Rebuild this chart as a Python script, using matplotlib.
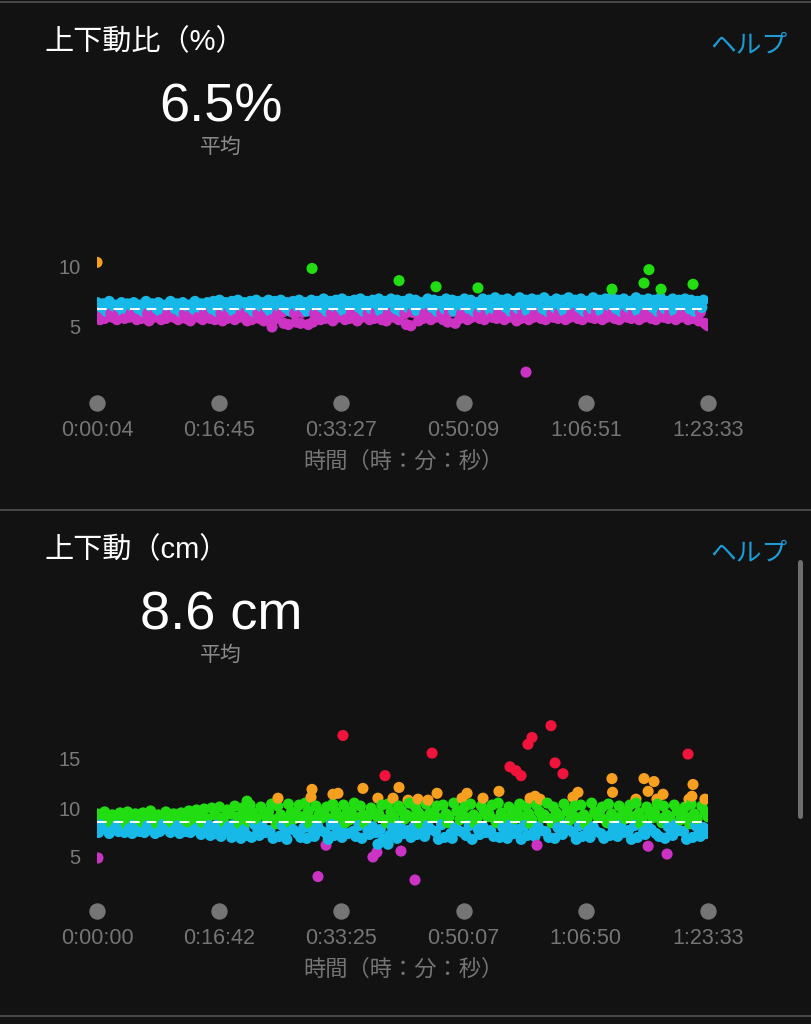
import numpy as np
import matplotlib.pyplot as plt
from matplotlib.lines import Line2D
from matplotlib.transforms import blended_transform_factory

plt.rcParams['font.family'] = ['Liberation Sans', 'Noto Sans CJK JP', 'DejaVu Sans']

W, H = 811, 1024
BG = '#121212'

# zone colours, low -> high
ZONE_COLORS = ['#cc33c4', '#17b9e8', '#22dd11', '#f7a020', '#f0143c']

# ---- 上下動比（%） ----
ratio_avg = 6.5
ratio_start, ratio_end = 4, 5013
ratio_vals = [
    7.0, 6.2, 5.6, 6.6, 6.9, 5.7, 6.3, 6.5, 7.1, 6.1, 5.8, 6.7, 6.8, 5.6, 6.2, 6.6, 7.0, 6.3, 5.7, 6.5,
    6.9, 5.8, 6.1, 6.7, 7.0, 6.2, 5.6, 6.5, 6.8, 5.7, 6.3, 6.6, 7.1, 6.1, 5.5, 6.7, 6.9, 5.8, 6.2, 6.5,
    7.0, 6.3, 5.6, 6.6, 6.8, 5.7, 6.1, 6.7, 7.1, 6.2, 5.8, 6.5, 6.9, 5.6, 6.3, 6.6, 7.0, 6.1, 5.7, 6.7,
    6.8, 5.5, 6.2, 6.5, 7.1, 6.3, 5.8, 6.6, 6.9, 5.6, 6.1, 6.7, 7.0, 6.2, 5.7, 6.5, 7.1, 5.6, 6.3, 6.6,
    7.2, 6.1, 5.5, 6.7, 7.0, 5.7, 6.2, 6.6, 7.1, 6.3, 5.6, 6.5, 7.2, 5.8, 6.1, 6.7, 7.0, 6.2, 5.5, 6.6,
    7.1, 5.6, 6.3, 6.5, 7.2, 6.1, 5.7, 6.7, 7.0, 5.5, 6.2, 6.6, 7.2, 6.3, 5.6, 6.5, 7.1, 5.7, 6.1, 6.7,
    7.2, 6.2, 5.3, 6.6, 7.0, 5.2, 6.3, 6.5, 7.1, 6.1, 5.4, 6.7, 7.2, 5.3, 6.2, 6.6, 7.0, 6.3, 5.2, 6.5,
    7.2, 5.4, 6.1, 6.7, 7.1, 6.2, 5.6, 6.6, 7.3, 5.7, 6.3, 6.5, 7.1, 6.1, 5.5, 6.7, 7.2, 5.8, 6.2, 6.6,
    7.3, 6.3, 5.6, 6.5, 7.1, 5.7, 6.1, 6.8, 7.2, 6.2, 5.5, 6.6, 7.3, 5.8, 6.3, 6.7, 7.1, 6.1, 5.6, 6.5,
    7.2, 5.7, 6.2, 6.8, 7.3, 6.3, 5.6, 6.6, 7.1, 5.5, 6.1, 6.7, 7.3, 6.2, 5.8, 6.5, 7.2, 5.6, 6.3, 6.8,
    7.1, 6.1, 5.2, 6.6, 7.3, 5.1, 6.2, 6.7, 7.2, 6.3, 5.5, 6.5, 7.0, 5.7, 6.1, 6.8, 7.3, 6.2, 5.6, 6.6,
    7.2, 5.8, 6.3, 6.7, 7.1, 6.1, 5.6, 6.5, 7.3, 5.4, 6.2, 6.8, 7.2, 6.3, 5.3, 6.6, 7.1, 5.7, 6.1, 6.7,
    7.3, 6.2, 5.6, 6.5, 7.2, 5.8, 6.3, 6.8, 7.0, 6.1, 5.7, 6.6, 7.3, 5.6, 6.2, 6.7, 7.2, 6.3, 5.8, 6.5,
    7.4, 5.7, 6.1, 6.8, 7.2, 6.2, 5.6, 6.6, 7.3, 5.8, 6.3, 6.7, 7.1, 6.1, 5.5, 6.5, 7.4, 5.7, 6.2, 6.8,
    7.2, 6.3, 5.6, 6.6, 7.3, 5.8, 6.1, 6.7, 7.2, 6.2, 5.7, 6.5, 7.4, 5.6, 6.3, 6.8, 7.1, 6.1, 5.8, 6.6,
    7.3, 5.7, 6.2, 6.7, 7.2, 6.3, 5.6, 6.5, 7.4, 5.8, 6.1, 6.8, 7.2, 6.2, 5.7, 6.6, 7.3, 5.6, 6.3, 6.7,
    7.1, 6.1, 5.8, 6.5, 7.4, 5.7, 6.2, 6.8, 7.2, 6.3, 5.6, 6.6, 7.3, 5.8, 6.1, 6.7, 7.4, 6.2, 5.7, 6.5,
    7.2, 5.6, 6.3, 6.8, 7.3, 6.1, 5.8, 6.6, 7.1, 5.7, 6.2, 6.7, 7.4, 6.3, 5.6, 6.5, 7.2, 5.8, 6.1, 6.8,
    7.3, 6.2, 5.7, 6.6, 7.2, 5.6, 6.3, 6.7, 7.4, 6.1, 5.8, 6.5, 7.1, 5.7, 6.2, 6.8, 7.3, 6.3, 5.6, 6.6,
    7.2, 5.8, 6.1, 6.7, 7.3, 6.2, 5.6, 6.5, 7.2, 5.7, 6.3, 6.8, 7.1, 5.5, 6.2, 6.6, 7.2, 5.3, 5.2, 5.1,
]
ratio_out_t = [4, 1439, 1767, 2480, 2783, 3127, 3521, 4226, 4488, 4529, 4628, 4890]
ratio_out_v = [10.3, 5.0, 9.8, 8.8, 8.3, 8.2, 1.3, 8.1, 8.6, 9.7, 8.1, 8.5]
ratio_bounds = [6.25, 7.5, 10.0, 12.0]
ratio_yticks = [5, 10]
ratio_tick_s = [4, 1005, 2007, 3009, 4011, 5013]
ratio_tick_labels = ['0:00:04', '0:16:45', '0:33:27', '0:50:09', '1:06:51', '1:23:33']

# ---- 上下動（cm） ----
osc_avg = 8.6
osc_start, osc_end = 0, 5013
osc_vals = [
    9.4, 7.5, 8.9, 8.3, 7.9, 9.6, 8.0, 9.0, 7.4, 8.5, 9.3, 7.8, 8.8, 8.2, 7.6, 9.5, 8.1, 9.1, 7.5, 8.4,
    9.6, 7.9, 8.9, 7.4, 8.3, 9.4, 8.0, 9.0, 7.6, 8.6, 9.5, 7.5, 8.8, 8.2, 7.8, 9.7, 8.1, 9.1, 7.4, 8.4,
    9.3, 7.6, 9.0, 8.3, 7.9, 9.6, 8.0, 8.8, 7.5, 8.5, 9.4, 7.8, 9.1, 8.2, 7.4, 9.5, 8.1, 8.9, 7.6, 8.6,
    9.7, 7.5, 9.0, 8.4, 7.8, 9.8, 8.0, 9.2, 7.3, 8.5, 9.9, 7.6, 8.9, 8.2, 7.2, 10.0, 7.9, 9.3, 7.4, 8.3,
    10.1, 7.1, 9.0, 8.5, 7.7, 9.8, 8.1, 9.4, 7.0, 8.3, 10.2, 7.5, 9.1, 8.4, 6.9, 10.0, 7.8, 9.3, 7.2, 8.6,
    10.3, 7.0, 9.5, 8.3, 8.9, 7.6, 7.2, 10.1, 8.1, 9.4, 7.5, 9.0, 9.6, 7.7, 10.4, 6.9, 8.8, 8.4, 10.2, 7.1,
    9.3, 8.2, 9.0, 7.5, 6.8, 10.4, 8.5, 9.6, 7.8, 8.9, 9.4, 7.4, 10.3, 7.0, 9.1, 8.0, 10.5, 6.9, 9.7, 8.4,
    8.8, 7.6, 7.1, 10.2, 8.2, 9.3, 7.7, 9.0, 9.5, 7.5, 10.1, 6.8, 8.9, 8.3, 10.4, 7.2, 9.6, 8.0, 9.1, 7.8,
    7.0, 10.3, 8.5, 9.4, 7.4, 8.8, 9.7, 7.6, 10.5, 7.1, 9.0, 8.2, 10.2, 6.9, 9.3, 8.4, 8.9, 7.7, 7.3, 10.0,
    8.1, 9.5, 7.5, 9.1, 9.4, 7.8, 10.3, 6.8, 8.8, 8.5, 10.4, 7.2, 9.6, 8.0, 9.0, 7.6, 6.9, 10.2, 8.3, 9.7,
    7.4, 8.9, 9.3, 7.7, 10.5, 7.0, 9.1, 8.1, 10.1, 7.3, 9.5, 8.4, 8.8, 7.5, 7.1, 10.4, 8.2, 9.4, 7.8, 9.0,
    9.6, 7.6, 10.2, 6.8, 8.9, 8.3, 10.3, 7.0, 9.4, 8.5, 9.1, 7.4, 6.9, 10.5, 8.0, 9.7, 7.7, 8.8, 9.5, 7.5,
    10.1, 7.2, 9.0, 8.2, 10.4, 6.8, 9.3, 8.4, 8.9, 7.8, 7.3, 10.2, 8.1, 9.6, 7.5, 9.1, 9.4, 7.7, 10.3, 7.1,
    8.8, 8.5, 10.5, 7.0, 9.5, 8.0, 9.0, 7.6, 6.9, 10.1, 8.3, 9.3, 7.4, 8.9, 9.7, 7.8, 10.4, 6.8, 9.1, 8.2,
    10.2, 7.2, 9.4, 8.4, 8.8, 7.5, 7.1, 10.3, 8.1, 9.6, 7.7, 9.0, 9.3, 7.6, 10.5, 7.0, 8.9, 8.5, 10.1, 6.9,
    9.5, 8.0, 9.1, 7.4, 7.3, 10.4, 8.3, 9.7, 7.8, 8.8, 9.4, 7.5, 10.2, 6.8, 9.0, 8.2, 10.3, 7.1, 9.3, 8.4,
    8.9, 7.7, 7.0, 10.5, 8.1, 9.6, 7.6, 9.1, 9.5, 7.4, 10.1, 6.9, 8.8, 8.5, 10.4, 7.2, 9.4, 8.0, 9.0, 7.8,
    7.1, 10.2, 8.3, 9.3, 7.5, 8.9, 9.7, 7.7, 10.3, 6.8, 9.1, 8.2, 10.5, 7.0, 9.5, 8.4, 8.8, 7.6, 7.3, 10.1,
    8.0, 9.4, 7.8, 9.0, 9.6, 7.4, 10.4, 7.1, 8.9, 8.5, 10.2, 6.9, 9.3, 8.1, 9.1, 7.5, 7.2, 10.3, 8.3, 9.7,
    7.7, 8.8, 9.5, 7.6, 10.1, 6.8, 9.0, 8.4, 10.4, 7.0, 9.4, 8.2, 8.9, 7.8, 7.1, 10.2, 8.0, 9.6, 7.4, 9.1,
]
osc_out_t = [8, 1813, 1879, 2264, 2297, 2494, 2609, 3610, 4522, 4677,
             2305, 2388, 1231,
             2018, 2363, 2749, 3388, 3438, 3479, 3536, 3569, 3725, 3758, 3823, 4849,
             1485, 1756, 1764, 1936, 1977, 2182, 2305, 2429, 2478, 2552, 2634, 2716,
             2790, 2995, 3036, 3167, 3298, 3553, 3594, 3635, 3905, 3946, 4225, 4230,
             4422, 4488, 4522, 4570, 4594, 4644, 4857, 4881, 4890, 4988]
osc_out_v = [4.9, 3.0, 6.2, 5.0, 5.5, 5.6, 2.65, 6.2, 6.1, 5.3,
             6.3, 6.3, 10.7,
             17.4, 13.3, 15.6, 14.2, 13.8, 13.3, 16.5, 17.2, 18.4, 14.6, 13.5, 15.5,
             11.0, 11.1, 11.9, 11.4, 11.5, 12.0, 11.0, 11.0, 12.1, 10.8, 10.9, 10.8,
             11.5, 11.0, 11.5, 11.0, 11.7, 11.0, 11.2, 10.9, 11.1, 11.6, 13.0, 11.6,
             10.9, 13.0, 11.7, 12.7, 10.9, 11.4, 10.9, 11.2, 12.4, 10.9]
osc_bounds = [6.25, 8.4, 10.75, 13.2]
osc_yticks = [5, 10, 15]
osc_tick_s = [0, 1002, 2005, 3007, 4010, 5013]
osc_tick_labels = ['0:00:00', '0:16:42', '0:33:25', '0:50:07', '1:06:50', '1:23:33']


fig = plt.figure(figsize=(W / 100, H / 100), dpi=100, facecolor=BG)


def fx(px):
    return px / W


def fy(py):
    return 1 - py / H


def draw_panel(off, title, big, vals, t0, t1, out_t, out_v, bounds, avg,
               yticks, ylim, ref_py, k, tick_s, tick_labels):
    # axes placed so that value 10 sits at ref_py with k px per unit
    top_px = ref_py - (ylim[1] - 10) * k
    bot_px = ref_py + (10 - ylim[0]) * k
    ax = fig.add_axes([fx(97), fy(bot_px), fx(708) - fx(97), (bot_px - top_px) / H])
    ax.set_facecolor('none')

    t = np.concatenate([np.linspace(t0, t1, len(vals)), out_t])
    v = np.concatenate([vals, out_v])
    order = np.argsort(t, kind='stable')
    t, v = t[order], v[order]
    cols = np.array(ZONE_COLORS)[np.digitize(v, bounds)]
    ax.scatter(t, v, s=64, c=cols, linewidths=0, zorder=2)
    ax.axhline(avg, color='white', lw=1.4, dashes=(5, 3.5), zorder=3)

    for sp in ax.spines.values():
        sp.set_visible(False)
    ax.set_xticks([])
    ax.set_yticks(yticks)
    ax.tick_params(axis='y', length=0, pad=12, labelsize=14.5, labelcolor='#7a7a7a')

    trans = blended_transform_factory(ax.transData, fig.transFigure)
    ax.plot(tick_s, [fy(403 + off)] * len(tick_s), 'o', ms=10.8, color='#757575',
            transform=trans, clip_on=False)
    for s, lab in zip(tick_s, tick_labels):
        ax.text(s, fy(431 + off), lab, transform=trans, ha='center', va='center',
                fontsize=15.5, color='#757575')
    ax.set_xlim(t0, t1)
    ax.set_ylim(*ylim)

    fig.text(fx(403), fy(462 + off), '時間（時：分：秒）', ha='center', va='center',
             fontsize=16, color='#757575')
    fig.text(fx(45), fy(42 + off), title, ha='left', va='center', fontsize=21, color='white')
    fig.text(fx(788), fy(45 + off), 'ヘルプ', ha='right', va='center', fontsize=18.5,
             color='#1e9bd7')
    fig.text(fx(221), fy(107 + off), big, ha='center', va='center', fontsize=39, color='white')
    fig.text(fx(221), fy(147 + off), '平均', ha='center', va='center', fontsize=15,
             color='#8a8a8a')


draw_panel(0, '上下動比（%）', '6.5%', ratio_vals, ratio_start, ratio_end,
           ratio_out_t, ratio_out_v, ratio_bounds, ratio_avg, ratio_yticks,
           (-0.5, 13.0), 266, 12.2, ratio_tick_s, ratio_tick_labels)
draw_panel(508, '上下動（cm）', '8.6 cm', osc_vals, osc_start, osc_end,
           osc_out_t, osc_out_v, osc_bounds, osc_avg, osc_yticks,
           (1.0, 19.5), 808, 9.8, osc_tick_s, osc_tick_labels)

# separators and scroll bar
for py in [2, 510, 1016]:
    fig.add_artist(Line2D([0, 1], [fy(py)] * 2, color='#4d4d4d', lw=1.3,
                          transform=fig.transFigure))
fig.add_artist(Line2D([fx(800)] * 2, [fy(562), fy(816)], color='#6e6e6e', lw=3.6,
                      solid_capstyle='round', transform=fig.transFigure))

fig.savefig('out.png', dpi=100, facecolor=BG)
